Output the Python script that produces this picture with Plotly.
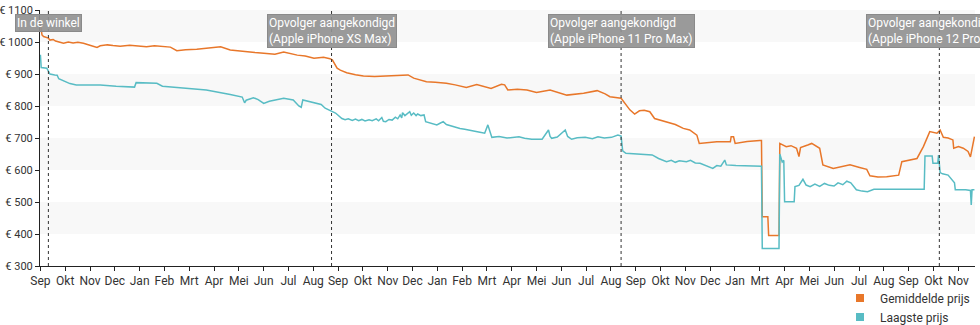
import plotly.graph_objects as go
import pandas as pd

# ---------------- data ----------------
avg_dates = ["2017-09-12","2017-09-14","2017-09-16","2017-09-19","2017-09-22","2017-09-24","2017-09-28","2017-10-01","2017-10-05","2017-10-11",
             "2017-10-17","2017-10-23","2017-10-29","2017-11-05","2017-11-13","2017-11-22","2017-11-26","2017-12-05","2017-12-12","2017-12-21",
             "2018-01-02","2018-01-12","2018-01-23","2018-02-02","2018-02-13","2018-02-22","2018-03-02","2018-03-13","2018-03-27","2018-04-05",
             "2018-04-13","2018-04-26","2018-05-08","2018-05-18","2018-05-29","2018-06-08","2018-06-19","2018-07-03","2018-07-14","2018-07-22",
             "2018-07-31","2018-08-10","2018-08-21","2018-09-02","2018-09-10","2018-09-13","2018-09-19","2018-09-23","2018-10-01","2018-10-12",
             "2018-10-22","2018-11-05","2018-11-21","2018-12-01","2018-12-12","2018-12-17","2018-12-24","2019-01-09","2019-01-20","2019-02-03",
             "2019-02-14","2019-02-28","2019-03-13","2019-03-23","2019-03-31","2019-04-13","2019-04-17","2019-04-21","2019-05-03","2019-05-15",
             "2019-05-27","2019-06-13","2019-06-24","2019-07-04","2019-07-25","2019-08-11","2019-08-21","2019-08-27","2019-09-10","2019-09-21",
             "2019-09-27","2019-10-03","2019-10-09","2019-10-16","2019-10-22","2019-11-06","2019-11-17","2019-11-27","2019-12-05","2019-12-14",
             "2019-12-17","2020-01-08","2020-01-25","2020-01-26","2020-01-29","2020-01-31","2020-02-15","2020-03-02","2020-03-04","2020-03-05",
             "2020-03-12","2020-03-13","2020-03-26","2020-03-27","2020-04-04","2020-04-10","2020-04-17","2020-04-20","2020-04-22","2020-05-01",
             "2020-05-06","2020-05-16","2020-05-20","2020-06-02","2020-06-13","2020-06-23","2020-07-05","2020-07-14","2020-07-18","2020-07-28",
             "2020-08-08","2020-08-23","2020-08-27","2020-09-05","2020-09-15","2020-09-23","2020-10-01","2020-10-10","2020-10-14","2020-10-18",
             "2020-10-24","2020-10-30","2020-10-31","2020-11-06","2020-11-12","2020-11-18","2020-11-21","2020-11-26"]
avg_prices = [1058,1022,1017,1014,1012,1006,1008,1003,1001,996,
              1000,997,999,996,990,983,988,991,989,987,
              990,988,985,988,987,984,973,976,977,979,
              981,985,975,972,968,967,965,962,969,964,
              959,956,949,952,948,944,918,912,904,898,
              894,892,894,897,898,897,887,876,874,871,
              866,858,867,860,855,868,866,850,852,850,
              842,850,842,834,840,848,838,829,824,788,
              775,785,787,782,761,751,742,730,725,709,
              683,688,688,704,704,683,689,692,692,454,
              454,395,395,683,673,676,668,642,670,678,
              683,668,616,605,610,616,608,602,582,578,
              579,584,626,630,636,673,720,715,725,702,
              700,694,668,673,668,658,641,704]

low_dates = ["2017-09-12","2017-09-13","2017-09-20","2017-09-22","2017-09-24","2017-09-30","2017-10-03","2017-10-05","2017-10-12","2017-10-19",
             "2017-10-27","2017-11-26","2017-12-16","2018-01-08","2018-01-10","2018-02-05","2018-02-12","2018-03-06","2018-03-20","2018-04-08",
             "2018-05-08","2018-05-23","2018-05-26","2018-05-28","2018-06-06","2018-06-12","2018-06-19","2018-06-26","2018-07-14","2018-07-26",
             "2018-08-02","2018-08-05","2018-08-07","2018-08-20","2018-08-30","2018-09-04","2018-09-12","2018-09-17","2018-09-25","2018-09-29",
             "2018-10-03","2018-10-08","2018-10-12","2018-10-16","2018-10-20","2018-10-24","2018-10-29","2018-11-02","2018-11-07","2018-11-10",
             "2018-11-14","2018-11-16","2018-11-19","2018-11-23","2018-11-27","2018-12-01","2018-12-04","2018-12-07","2018-12-09","2018-12-10",
             "2018-12-13","2018-12-16","2018-12-19","2018-12-21","2018-12-24","2018-12-27","2018-12-29","2019-01-02","2019-01-06","2019-01-08",
             "2019-01-12","2019-01-16","2019-01-22","2019-01-26","2019-01-30","2019-02-03","2019-02-08","2019-02-13","2019-02-20","2019-02-26",
             "2019-03-03","2019-03-08","2019-03-12","2019-03-17","2019-03-23","2019-03-27","2019-03-29","2019-04-01","2019-04-10","2019-04-20",
             "2019-05-05","2019-05-12","2019-05-21","2019-06-03","2019-06-11","2019-06-13","2019-06-15","2019-06-22","2019-07-02","2019-07-05",
             "2019-07-10","2019-07-17","2019-07-27","2019-08-05","2019-08-12","2019-08-20","2019-08-29","2019-09-06","2019-09-10","2019-09-12",
             "2019-09-16","2019-09-25","2019-10-05","2019-10-19","2019-10-27","2019-11-01","2019-11-06","2019-11-12","2019-11-17","2019-11-22",
             "2019-12-01","2019-12-06","2019-12-12","2019-12-18","2019-12-23","2020-01-03","2020-01-08","2020-01-13","2020-01-18","2020-01-20",
             "2020-02-01","2020-02-15","2020-03-04","2020-03-05","2020-03-26","2020-03-27","2020-03-30","2020-04-01","2020-04-02","2020-04-14",
             "2020-04-15","2020-04-20","2020-04-25","2020-04-29","2020-05-04","2020-05-10","2020-05-16","2020-05-22","2020-05-28","2020-06-03",
             "2020-06-08","2020-06-14","2020-06-19","2020-06-24","2020-06-29","2020-07-01","2020-07-08","2020-07-15","2020-07-23","2020-09-24",
             "2020-09-25","2020-10-04","2020-10-05","2020-10-11","2020-10-12","2020-10-14","2020-10-17","2020-10-24","2020-11-01","2020-11-02",
             "2020-11-15","2020-11-21","2020-11-22","2020-11-23","2020-11-26"]
low_prices = [960,920,918,908,900,897,896,885,878,870,
              866,866,862,859,873,871,862,858,855,850,
              836,828,810,818,826,820,808,815,824,819,
              800,796,819,812,805,793,785,778,761,757,
              760,755,759,754,758,753,757,754,760,754,
              764,752,751,758,756,765,760,772,763,779,
              770,776,782,771,778,770,775,770,772,751,
              748,744,741,746,751,742,738,735,730,727,
              724,722,720,718,715,741,725,702,705,700,
              704,699,696,696,725,705,699,703,725,705,
              696,701,702,698,704,700,702,709,706,660,
              652,651,649,647,636,630,626,630,624,629,
              626,630,622,621,616,605,614,612,631,616,
              614,613,612,355,355,650,625,630,501,501,
              548,552,571,553,548,556,549,558,552,550,
              560,554,565,560,545,538,534,532,540,540,
              644,644,621,621,647,592,588,584,560,538,
              538,536,491,538,538]

event_dates = ["2017-09-22", "2018-09-12", "2019-09-10", "2020-10-13"]
event_labels = ["In de winkel",
                "Opvolger aangekondigd<br>(Apple iPhone XS Max)",
                "Opvolger aangekondigd<br>(Apple iPhone 11 Pro Max)",
                "Opvolger aangekondigd<br>(Apple iPhone 12 Pro Max)"]

month_labels = ["Sep","Okt","Nov","Dec","Jan","Feb","Mrt","Apr","Mei","Jun","Jul","Aug",
                "Sep","Okt","Nov","Dec","Jan","Feb","Mrt","Apr","Mei","Jun","Jul","Aug",
                "Sep","Okt","Nov","Dec","Jan","Mrt","Apr","Mei","Jun","Jul","Aug","Sep","Okt","Nov"]
y_ticks = [300, 400, 500, 600, 700, 800, 900, 1000, 1100]
y_labels = ["€ 300", "€ 400", "€ 500", "€ 600", "€ 700", "€ 800", "€ 900", "€ 1000", "€ 1100"]
series_names = ["Gemiddelde prijs", "Laagste prijs"]

# ---------------- figure ----------------
ORANGE = "#e8772a"
TEAL = "#58bcc4"
FONT = "Roboto, Arial, sans-serif"

tick_start = pd.Timestamp("2017-09-12")
tick_dates = [tick_start + pd.Timedelta(days=31.1 * k) for k in range(len(month_labels))]

fig = go.Figure()
fig.add_trace(go.Scatter(x=avg_dates, y=avg_prices, mode="lines",
                         line=dict(color=ORANGE, width=1.5), showlegend=False, name=series_names[0]))
fig.add_trace(go.Scatter(x=low_dates, y=low_prices, mode="lines",
                         line=dict(color=TEAL, width=1.5), showlegend=False, name=series_names[1]))
# legend entries as square markers
for nm, col in zip(series_names, [ORANGE, TEAL]):
    fig.add_trace(go.Scatter(x=[None], y=[None], mode="markers", name=nm,
                             marker=dict(symbol="square", size=8, color=col)))

shapes = []
for i in range(len(y_ticks) - 1):
    if i % 2 == 1:
        shapes.append(dict(type="rect", xref="paper", yref="y", x0=0, x1=1,
                           y0=y_ticks[i], y1=y_ticks[i + 1], fillcolor="#f8f8f8",
                           line=dict(width=0), layer="below"))
for d in event_dates:
    shapes.append(dict(type="line", xref="x", yref="paper", x0=d, x1=d, y0=0, y1=1,
                       line=dict(color="#333333", width=1, dash="dot")))

annotations = []
for d, lab in zip(event_dates, event_labels):
    annotations.append(dict(x=d, xref="x", y=0.985, yref="paper", text=lab, showarrow=False,
                            xanchor="center", yanchor="top", align="left",
                            font=dict(family=FONT, size=12, color="white"),
                            bgcolor="rgba(145,145,145,0.92)", bordercolor="#8a8a8a",
                            borderwidth=1, borderpad=1))

fig.update_layout(
    width=980, height=325, autosize=False,
    margin=dict(l=40, r=5, t=10, b=59, autoexpand=False),
    paper_bgcolor="white", plot_bgcolor="white",
    font=dict(family=FONT, size=12, color="#333333"),
    shapes=shapes, annotations=annotations,
    showlegend=True,
    legend=dict(x=1, xanchor="right", y=-0.068, yanchor="top", bgcolor="rgba(0,0,0,0)",
                font=dict(family=FONT, size=12, color="#333333"), tracegroupgap=0,
                itemwidth=30),
    xaxis=dict(type="date", range=["2017-09-11 12:00", "2020-11-26 17:00"],
               tickvals=tick_dates, ticktext=month_labels, automargin=False,
               showline=True, linecolor="#222222", linewidth=1,
               ticks="outside", ticklen=4, tickcolor="#222222",
               showgrid=False, zeroline=False,
               tickfont=dict(family=FONT, size=12, color="#333333")),
    yaxis=dict(range=[300, 1100], tickvals=y_ticks, ticktext=y_labels, automargin=False,
               showline=True, linecolor="#222222", linewidth=1,
               ticks="outside", ticklen=4, tickcolor="#222222",
               showgrid=False, zeroline=False,
               tickfont=dict(family=FONT, size=11, color="#333333")),
)

fig.write_html("out.html")
